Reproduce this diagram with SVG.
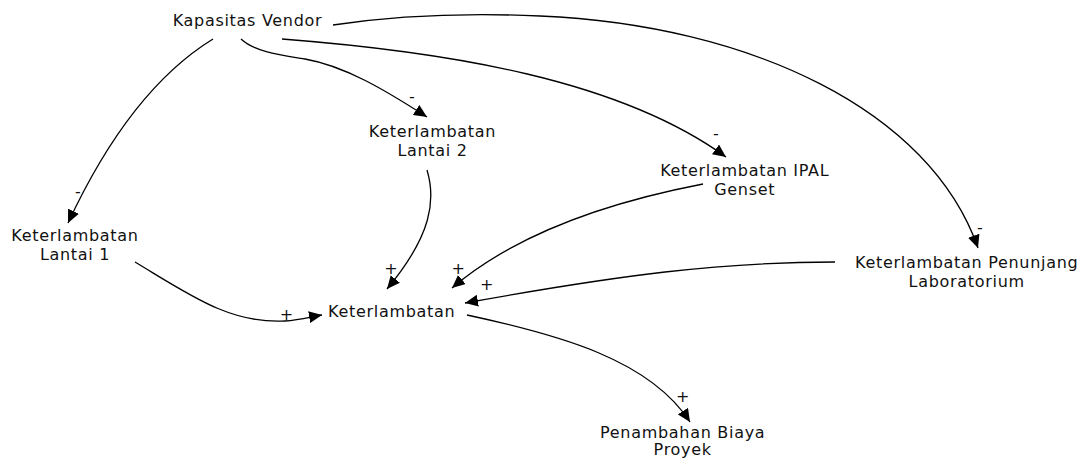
<svg xmlns="http://www.w3.org/2000/svg" width="1085" height="459" viewBox="0 0 1085 459">
<defs>
<marker id="arr" markerWidth="14" markerHeight="12" refX="13" refY="6" orient="auto" markerUnits="userSpaceOnUse">
<path d="M0,0 L13,6 L0,12 Z" fill="#000"/>
</marker>
<style>
.lbl{font-family:"DejaVu Sans",Verdana,sans-serif;font-size:16px;letter-spacing:0.7px;fill:#111;text-anchor:middle}
.pol{font-family:"DejaVu Sans",Verdana,sans-serif;font-size:16px;fill:#111;text-anchor:middle}
.c{fill:none;stroke:#000;stroke-width:1.3;marker-end:url(#arr)}
</style>
</defs>
<rect width="1085" height="459" fill="#fff"/>
<g id="connectors">
<path class="c" d="M213,39 Q130,90 68,223"/>
<path class="c" d="M241,39 C255,52 280,55 305,59 C345,66 385,90 427,117"/>
<path class="c" d="M282,39 C450,52 620,80 726,157"/>
<path class="c" d="M333,25 C380,18 450,12 540,16 C750,25 930,110 978,248"/>
<path class="c" d="M427,170 C436,200 432,235 387,289"/>
<path class="c" d="M135,262 C190,295 230,324 285,321 C300,320 310,317 322,315"/>
<path class="c" d="M703,184 C620,200 520,230 452,288"/>
<path class="c" d="M835,262 C720,262 620,275 465,303"/>
<path class="c" d="M467,315 C560,335 650,360 690,422"/>
<text class="pol" x="78" y="196.5">-</text>
<text class="pol" x="412" y="101.5">-</text>
<text class="pol" x="716" y="138.5">-</text>
<text class="pol" x="980" y="232.5">-</text>
<text class="pol" x="391" y="274">+</text>
<text class="pol" x="286.5" y="320">+</text>
<text class="pol" x="458.3" y="274">+</text>
<text class="pol" x="486.7" y="289.7">+</text>
<text class="pol" x="682.7" y="402.4">+</text>
</g>
<g id="kapasitas-vendor"><text class="lbl" x="247.5" y="25.5">Kapasitas Vendor</text></g>
<g id="lantai2"><text class="lbl" x="432.5" y="137.3">Keterlambatan</text><text class="lbl" x="432.5" y="156">Lantai 2</text></g>
<g id="lantai1"><text class="lbl" x="75" y="240.5">Keterlambatan</text><text class="lbl" x="75" y="260">Lantai 1</text></g>
<g id="ipal"><text class="lbl" x="744.7" y="176">Keterlambatan IPAL</text><text class="lbl" x="744.7" y="194.5">Genset</text></g>
<g id="penunjang"><text class="lbl" x="966.7" y="268.3">Keterlambatan Penunjang</text><text class="lbl" x="966.7" y="286.7">Laboratorium</text></g>
<g id="keterlambatan"><text class="lbl" x="391.7" y="316.7">Keterlambatan</text></g>
<g id="penambahan"><text class="lbl" x="682.7" y="437.5">Penambahan Biaya</text><text class="lbl" x="682.7" y="455.3">Proyek</text></g>
</svg>
